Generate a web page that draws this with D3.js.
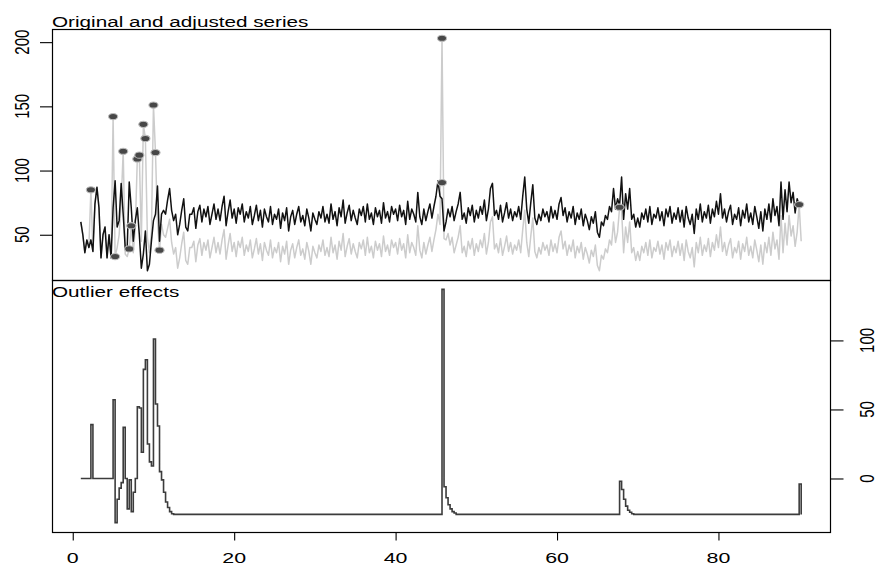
<!DOCTYPE html>
<html><head><meta charset="utf-8">
<script src="https://cdn.jsdelivr.net/npm/d3@7"></script>
<style>body{margin:0;background:#fff}svg{display:block}</style>
</head><body><svg id="c" width="879" height="566"></svg>
<script>
// ---- data ----
const startTime = 1, frequency = 4;
const original = [
60,50,36,46,40,85,37,74,87,71,32,50,56,32,50,32,142,33,40,50,75,115,35,33,39,57,36,55,109,112,45,136,125,48,36,52,151,114,60,38,58,50,48,55,62,
44,35,40,24,32,43,52,30,27,40,40,45,
29,42,47,34,44,38,46,32,40,48,36,44,35,46,54,31,42,51,37,44,
33,45,40,48,34,42,37,46,32,39,47,35,43,30,44,38,34,46,32,40,
36,44,29,41,35,45,27,38,43,32,40,46,34,39,31,44,37,27,41,36,
32,42,37,46,34,40,33,48,36,42,31,45,38,51,33,41,47,35,43,37,
32,44,39,46,34,48,36,41,32,45,38,43,33,49,37,42,34,46,40,44,
35,47,38,43,32,50,36,44,40,34,57,38,32,44,35,42,48,37,46,54,66,58,
203,47,46,51,42,48,36,42,48,57,36,41,33,45,39,47,34,43,
37,46,40,51,35,44,60,64,39,43,36,47,34,41,49,37,44,35,42,38,
46,36,54,69,44,33,49,63,37,32,40,35,44,38,42,34,46,37,43,36,
48,53,39,45,34,42,37,46,32,41,36,44,31,40,35,28,38,33,42,26,
22,34,31,39,36,46,42,60,44,52,71,69,36,56,44,60,36,40,30,37,
30,41,36,44,34,46,32,40,37,45,35,42,31,44,38,46,33,41,36,45,
34,43,30,46,37,32,40,25,44,36,48,34,42,37,47,33,44,38,50,40,
56,37,44,34,42,47,32,40,36,45,31,43,37,48,34,41,32,46,38,29,
42,27,44,36,48,34,52,39,46,31,65,36,59,42,65,49,57,41,52,73.5,45
];
const adjusted = [
60,50,36,46,40,46,37,74,87,71,32,50,56,32,50,32,71,92,56,61,90,66,40,40,91,71,45,61,71,50,24,35,53,22,27,45,61,66,88,45,66,69,66,77,86,
69,61,66,50,58,69,78,56,53,66,66,71,
55,68,73,60,70,64,72,58,66,74,62,70,61,72,80,57,68,77,63,70,
59,71,66,74,60,68,63,72,58,65,73,61,69,56,70,64,60,72,58,66,
62,70,55,67,61,71,53,64,69,58,66,72,60,65,57,70,63,53,67,62,
58,68,63,72,60,66,59,74,62,68,57,71,64,77,59,67,73,61,69,63,
58,70,65,72,60,74,62,67,58,71,64,69,59,75,63,68,60,72,66,70,
61,73,64,69,58,76,62,70,66,60,83,64,58,70,61,68,74,63,72,80,92,80,
78,53,60,70,64,72,61,68,74,83,62,67,59,71,65,73,60,69,
63,72,66,77,61,70,86,90,65,69,62,73,60,67,75,63,70,61,68,64,
72,62,80,95,70,59,75,89,63,58,66,61,70,64,68,60,72,63,69,62,
74,79,65,71,60,68,63,72,58,67,62,70,57,66,61,54,64,59,68,52,
48,60,57,65,62,72,68,86,70,78,73,95,62,82,70,86,62,66,56,63,
56,67,62,70,60,72,58,66,63,71,61,68,57,70,64,72,59,67,62,71,
60,69,56,72,63,58,66,51,70,62,74,60,68,63,73,59,70,64,76,66,
82,63,70,60,68,73,58,66,62,71,57,69,63,74,60,67,58,72,64,55,
68,53,70,62,74,60,78,65,72,57,91,62,85,68,91,75,83,67,78,73,71
];
const effectTimes  = [1,2.25,2.5,5,5.25,5.5,5.75,6,6.25,6.5,6.75,7,7.25,7.5,7.75,8,8.25,8.5,8.75,9,9.25,9.5,9.75,10,10.25,10.5,10.75,11,11.25,11.5,11.75,12,12.25,12.5,45.75,46,46.25,46.5,46.75,47,47.25,47.5,67.75,68,68.25,68.5,68.75,69,69.25,69.5,90,90.25];
const effectValues = [0,39,0,57,-32,-15,-7,-3,37,0,-22,-1,-24,-10,0,52,51,19,79,86,25,12,9,101,54,38,5,-1,-10,-17,-21,-24,-25.5,-26,137,-6,-14,-19,-22,-24,-25,-26,-2,-8,-15,-20,-23,-24.5,-25.5,-26,-4,-26];
const outlierTimes  = [2.25,5,5.25,6.25,7,7.25,8,8.25,8.75,9,10,10.25,10.75,45.75,45.75,67.75,90];
const outlierValues = [85,142,33,115,39,57,109,112,136,125,151,114,38,203,90.6,71.4,73.5];
const xTicks = [0,20,40,60,80];
const yTicksTop = [50,100,150,200];
const yTicksBottom = [0,50,100];
const titleTop = "Original and adjusted series";
const titleBottom = "Outlier effects";

// ---- layout ----
const L = 52, R = 830, T1 = 29, M = 280, B2 = 532;
const SX = 1.38, FS = 15, FONT = "'Liberation Sans', Arial, Helvetica, sans-serif";
const svg = d3.select("#c");
const times = original.map((d, i) => startTime + i / frequency);
const ext = (lo, hi) => { const r = hi - lo; return [lo - 0.04 * r, hi + 0.04 * r]; };

const x = d3.scaleLinear().domain(ext(d3.min(times), d3.max(times))).range([L, R]);
const yT = d3.scaleLinear().domain(ext(d3.min(original.concat(adjusted)), d3.max(original.concat(adjusted)))).range([M, T1]);
const yB = d3.scaleLinear().domain(ext(d3.min(effectValues), d3.max(effectValues))).range([B2, M]);

svg.append("defs").call(g => {
  g.append("clipPath").attr("id", "cpT").append("rect").attr("x", L).attr("y", T1).attr("width", R - L).attr("height", M - T1);
  g.append("clipPath").attr("id", "cpB").append("rect").attr("x", L).attr("y", M).attr("width", R - L).attr("height", B2 - M);
});

// top panel lines
const lineT = d3.line().x((d, i) => x(times[i])).y(d => yT(d));
const gT = svg.append("g").attr("clip-path", "url(#cpT)");
gT.append("path").datum(original).attr("d", lineT).attr("fill", "none").attr("stroke", "#cccccc").attr("stroke-width", 1.5).attr("stroke-linejoin", "round");
gT.append("path").datum(adjusted).attr("d", lineT).attr("fill", "none").attr("stroke", "#111").attr("stroke-width", 1.5).attr("stroke-linejoin", "round");
gT.selectAll("ellipse").data(outlierTimes).join("ellipse")
  .attr("cx", d => x(d)).attr("cy", (d, i) => yT(outlierValues[i]))
  .attr("rx", 4.6).attr("ry", 3.1).attr("fill", "#474747").attr("stroke", "#bdbdbd").attr("stroke-width", 1.1);

// bottom panel effects (step)
const eff = effectTimes.map((t, i) => [t, effectValues[i]]);
svg.append("g").attr("clip-path", "url(#cpB)").append("path").datum(eff)
  .attr("d", d3.line().curve(d3.curveStepAfter).x(d => x(d[0])).y(d => yB(d[1])))
  .attr("fill", "none").attr("stroke", "#3c3c3c").attr("stroke-width", 1.6);

// boxes
svg.append("rect").attr("x", L + 0.5).attr("y", T1 + 0.5).attr("width", R - L).attr("height", M - T1).attr("fill", "none").attr("stroke", "#000").attr("stroke-width", 1.2);
svg.append("rect").attr("x", L + 0.5).attr("y", M + 0.5).attr("width", R - L).attr("height", B2 - M).attr("fill", "none").attr("stroke", "#000").attr("stroke-width", 1.2);

// axes (ticks via d3 axes, no domain line)
const tickStyle = g => { g.select(".domain").remove(); g.selectAll("text").remove(); g.selectAll("line").attr("stroke", "#000").attr("stroke-width", 1.1); };
svg.append("g").attr("transform", `translate(${L},0)`).call(d3.axisLeft(yT).tickValues(yTicksTop).tickSize(12)).call(tickStyle);
svg.append("g").attr("transform", `translate(${R + 0.5},0)`).call(d3.axisRight(yB).tickValues(yTicksBottom).tickSize(13)).call(tickStyle);
svg.append("g").attr("transform", `translate(0,${B2 + 0.5})`).call(d3.axisBottom(x).tickValues(xTicks).tickSize(8)).call(tickStyle);

const txt = (s, tx, ty, rot, anchor) => svg.append("text").text(s)
  .attr("transform", `translate(${tx},${ty}) scale(${SX},1)` + (rot ? " rotate(-90)" : ""))
  .attr("text-anchor", anchor).attr("font-family", FONT).attr("font-size", FS).attr("fill", "#000");

yTicksTop.forEach(v => txt(String(v), 29.3, yT(v), true, "middle"));
yTicksBottom.forEach(v => txt(String(v), 873.5, yB(v), true, "middle"));
xTicks.forEach(v => txt(String(v), x(v), 562.5, false, "middle").attr("font-size", 15.5));
txt(titleTop, 52, 26.7, false, "start");
txt(titleBottom, 52, 296.7, false, "start");
</script></body></html>
